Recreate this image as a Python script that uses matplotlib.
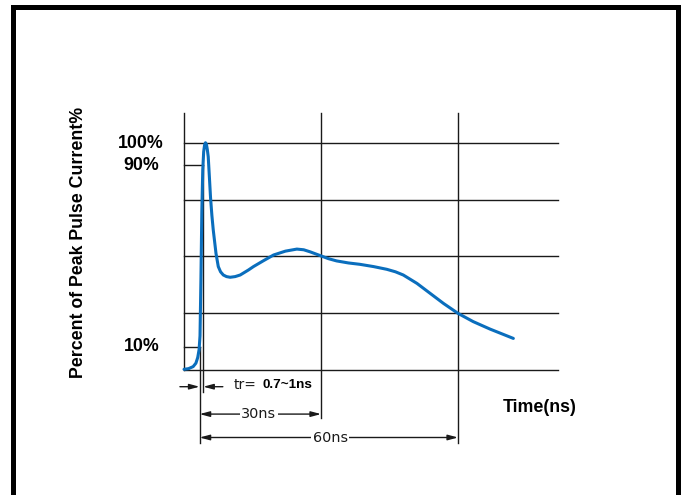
import matplotlib.pyplot as plt
from matplotlib.patches import Rectangle, ArrowStyle

# pulse waveform (time in ns, % of peak current)
t_ns = [0, 1.0, 2.0, 2.6, 3.0, 3.3, 3.5, 3.7, 3.9, 4.1, 4.3, 4.5, 4.7, 4.9,
        5.1, 5.3, 5.55, 5.8, 6.1, 6.4, 7.0, 7.5, 8.0, 8.6, 9.3, 10.1, 11.2,
        12.3, 14.1, 15.2, 17.4, 19.6, 22.2, 24.7, 26.2, 27.6, 30.0, 31.6,
        33.4, 36.0, 38.5, 41.5, 44.4, 46.3, 48.0, 51.0, 53.9, 56.8, 60.0,
        63.3, 67.0, 72.1]
pct = [0.3, 0.6, 1.5, 3.0, 5.5, 9.0, 15, 40, 70, 88, 96, 99, 100, 99.3,
       97, 93.8, 85, 76, 68, 61.6, 51.3, 45.5, 43.2, 41.8, 41.1, 40.8, 41.1,
       41.8, 44.0, 45.5, 48.1, 50.6, 52.3, 53.2, 52.9, 52.0, 50.2, 49.0,
       48.0, 47.1, 46.5, 45.5, 44.3, 43.2, 41.8, 38.1, 33.7, 29.3, 24.9,
       21.3, 18.0, 13.9]

grid_pct = [0, 25, 50, 75, 100]
grid_t = [0, 30, 60]
pct_labels = ["100%", "90%", "10%"]
pct_label_vals = [100, 90, 10]
t_10 = 3.4    # 10% crossing
t_90 = 4.2    # 90% crossing
t_end = 81.9
pct_top = 112.9

BLUE = '#0a6ebd'
INK = '#1a1a1a'

fig = plt.figure(figsize=(6.86, 4.95), dpi=100)
ax = fig.add_axes([0, 0, 1, 1])
ax.set_xlim(-40.29, 109.9)
ax.set_ylim(-55.0, 162.8)
ax.axis('off')

# outer frame
fig.patches.append(Rectangle((12.5 / 686, -0.05), 665 / 686, 1.05 - 7 / 495,
                             transform=fig.transFigure, fill=False,
                             ec='black', lw=3.6))

# grid
for p in grid_pct:
    ax.plot([0, t_end], [p, p], color=INK, lw=1.0, zorder=1)
ax.plot([0, 0], [0, pct_top], color=INK, lw=1.0, zorder=1)
ax.plot([30, 30], [-21.1, pct_top], color=INK, lw=1.0, zorder=1)
ax.plot([60, 60], [-32.1, pct_top], color=INK, lw=1.0, zorder=1)

# 10% / 90% ticks and extension lines
ax.plot([0, t_90], [90, 90], color=INK, lw=1.0, zorder=1)
ax.plot([0, t_10], [10, 10], color=INK, lw=1.0, zorder=1)
ax.plot([t_90, t_90], [90, -9.7], color=INK, lw=1.0, zorder=1)
ax.plot([t_10, t_10], [10, -32.1], color=INK, lw=1.0, zorder=1)

# waveform
ax.plot(t_ns, pct, color=BLUE, lw=2.2, solid_capstyle='round',
        solid_joinstyle='round', zorder=3)

# labels
ax.text(-4.4, 99.7, pct_labels[0], ha='right', va='center', fontsize=12.8,
        fontweight='bold', family='Liberation Sans')
for lab, v in zip(pct_labels[1:], pct_label_vals[1:]):
    ax.text(-5.4, v + 0.2, lab, ha='right', va='center', fontsize=12.8,
            fontweight='bold', family='Liberation Sans')
ax.text(-23.2, 56.3, "Percent of Peak Pulse Current%", rotation=90,
        ha='center', va='center', fontsize=12.8, fontweight='bold',
        family='Liberation Sans')
ax.text(77.8, -16.3, "Time(ns)", ha='center', va='center', fontsize=12.8,
        fontweight='bold', family='Liberation Sans')

# dimension arrows
head = ArrowStyle('-|>', head_length=0.6, head_width=0.16)
both = ArrowStyle('<|-|>', head_length=0.6, head_width=0.16)
arrow_kw = dict(color=INK, lw=1.0, shrinkA=0, shrinkB=0, mutation_scale=10)

y_tr = -7.35
ax.annotate('', xy=(t_10, y_tr), xytext=(-0.9, y_tr),
            arrowprops=dict(arrowstyle=head, **arrow_kw))
ax.annotate('', xy=(t_90, y_tr), xytext=(8.5, y_tr),
            arrowprops=dict(arrowstyle=head, **arrow_kw))
ax.text(10.9, -6.8, "tr=", ha='left', va='center', fontsize=10,
        family='DejaVu Sans', color=INK)
ax.text(22.6, -6.6, "0.7~1ns", ha='center', va='center', fontsize=9.7,
        fontweight='bold', family='Liberation Sans')

for t_right, y_dim, lab, x_lab in [(30, -19.4, "30ns", 16.4), (60, -29.7, "60ns", 32.0)]:
    ax.annotate('', xy=(t_right, y_dim), xytext=(t_10, y_dim),
                arrowprops=dict(arrowstyle=both, **arrow_kw))
    ax.text(x_lab, y_dim, lab, ha='center', va='center', fontsize=10.4,
            family='DejaVu Sans', color=INK,
            bbox=dict(fc='white', ec='none', pad=0.8))

fig.savefig('out.png', dpi=100)
